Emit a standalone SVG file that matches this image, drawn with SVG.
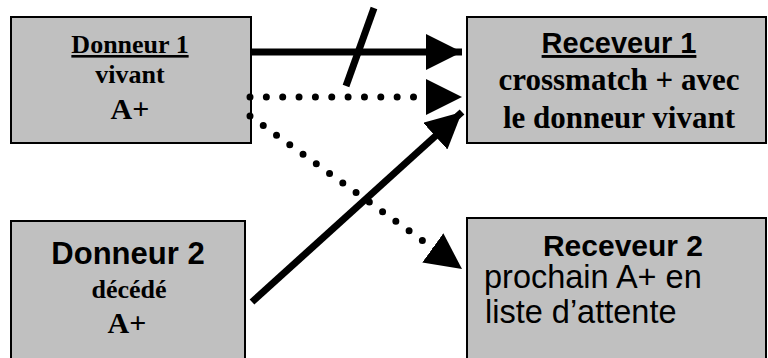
<svg xmlns="http://www.w3.org/2000/svg" width="768" height="358" viewBox="0 0 768 358">
<style>
.box{fill:#c0c0c0;stroke:#000;stroke-width:2}
.serif{font-family:"Liberation Serif","Times New Roman",serif;font-weight:bold;fill:#000}
.sans{font-family:"Liberation Sans",Arial,sans-serif;fill:#000}
.b{font-weight:bold}
.mid{text-anchor:middle}
.u{text-decoration:underline}
.solid{stroke:#000;stroke-width:7;fill:none}
.dot{stroke:#000;stroke-width:7;fill:none;stroke-linecap:round;stroke-dasharray:0 16.35}
</style>
<defs>
<marker id="ah" markerUnits="userSpaceOnUse" viewBox="0 0 36 36" refX="36" refY="18" markerWidth="36" markerHeight="36" orient="auto">
<path d="M0,0 L36,18 L0,36 Z" fill="#000"/>
</marker>
</defs>
<rect width="768" height="358" fill="#fff"/>
<g id="donneur1">
<rect class="box" x="11" y="17" width="240" height="126"/>
<text class="serif mid u" x="130" y="53" font-size="26">Donneur 1</text>
<text class="serif mid" x="130" y="83" font-size="26">vivant</text>
<text class="serif mid" x="130" y="119" font-size="30">A+</text>
</g>
<g id="receveur1">
<rect class="box" x="467" y="17" width="299" height="126"/>
<text class="sans b mid u" x="619" y="53" font-size="29">Receveur 1</text>
<text class="serif mid" x="619" y="90" font-size="31">crossmatch + avec</text>
<text class="serif mid" x="619" y="128" font-size="31">le donneur vivant</text>
</g>
<g id="donneur2">
<rect class="box" x="11" y="221" width="234" height="150"/>
<text class="sans b mid" x="128" y="264" font-size="31">Donneur 2</text>
<text class="serif mid" x="129" y="298" font-size="26">décédé</text>
<text class="serif mid" x="127" y="333" font-size="30">A+</text>
</g>
<g id="receveur2">
<rect class="box" x="467" y="218" width="299" height="150"/>
<text class="sans b mid" x="623" y="256" font-size="30">Receveur 2</text>
<text class="sans" x="484" y="288" font-size="32.5">prochain A+ en</text>
<text class="sans" x="485" y="323" font-size="32.5">liste d’attente</text>
</g>
<g id="connectors">
<line class="solid" x1="251" y1="52" x2="462" y2="52" marker-end="url(#ah)"/>
<line class="solid" x1="374" y1="8" x2="346" y2="86"/>
<line class="dot" x1="250" y1="97" x2="462" y2="97" marker-end="url(#ah)"/>
<line class="dot" x1="250" y1="116" x2="462" y2="269" marker-end="url(#ah)"/>
<line class="solid" x1="252" y1="302" x2="462" y2="112" marker-end="url(#ah)"/>
</g>
</svg>
